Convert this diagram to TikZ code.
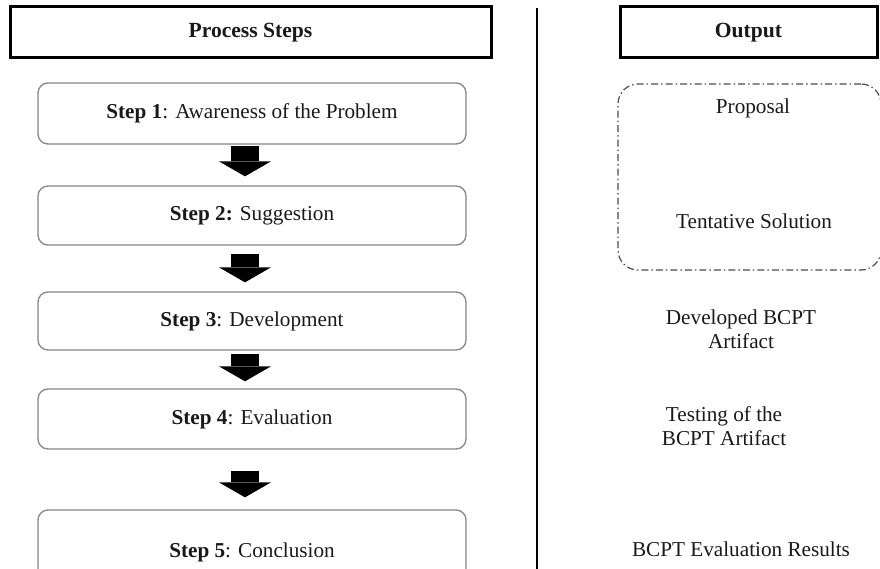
\documentclass[tikz,border=0pt]{standalone}
\usepackage{fontspec}
\setmainfont{Liberation Serif}
\usetikzlibrary{arrows.meta}
\begin{document}
\begin{tikzpicture}[x=1pt,y=-1pt,
  txt/.style={font=\fontsize{21.2}{24.5}\selectfont, text=black!90},
  header/.style={txt, draw=black, line width=3pt, minimum width=#1, minimum height=51pt,
    inner sep=0pt, font=\fontsize{21.6}{24.5}\selectfont\bfseries},
  stepbox/.style={txt, draw=black!48, line width=1.3pt, rounded corners=10pt,
    minimum width=428pt, inner sep=0pt},
  outtext/.style={txt, align=center, inner sep=0pt},
  group/.style={draw=black!70, line width=1.2pt, rounded corners=20pt,
    dash pattern=on 7pt off 3pt on 1.5pt off 3pt, inner sep=0pt},
  blockarrow/.style={line width=28pt, black,
    -{Triangle[width=52pt,length=15pt,line width=0pt]}}]

\useasboundingbox (0,0) rectangle (880,569);

% column headers
\node[header=481pt] (hp) at (250.5,32.5) {Process Steps};
\node[header=257pt] (ho) at (748.5,32.5) {Output};

% divider between the two columns
\coordinate (dtop) at (537,8);
\coordinate (dbot) at (537,569);
\draw[line width=2.5pt] (dtop) -- (dbot);

% process steps
\node[stepbox, minimum height=61pt] (s1) at (252,113.5) {\textbf{Step 1}: Awareness of the Problem};
\node[stepbox, minimum height=59pt] (s2) at (252,215.5) {\textbf{Step 2:} Suggestion};
\node[stepbox, minimum height=58pt] (s3) at (252,321)   {\textbf{Step 3}: Development};
\node[stepbox, minimum height=60pt] (s4) at (252,419)   {\textbf{Step 4}: Evaluation};
\node[stepbox, minimum height=84pt] (s5) at (252,552)   {\textbf{Step 5}: Conclusion};

% block arrows between steps
\draw[blockarrow] ([xshift=-7pt,yshift=-1pt]s1.south)  -- ([xshift=-7pt,yshift=9pt]s2.north);
\draw[blockarrow] ([xshift=-7pt,yshift=-8pt]s2.south)  -- ([xshift=-7pt,yshift=9pt]s3.north);
\draw[blockarrow] ([xshift=-7pt,yshift=-3pt]s3.south)  -- ([xshift=-7pt,yshift=7pt]s4.north);
\draw[blockarrow] ([xshift=-7pt,yshift=-21pt]s4.south) -- ([xshift=-7pt,yshift=12pt]s5.north);

% outputs
\node[group, minimum width=263pt, minimum height=186pt] (grp) at (749.5,177) {};
\node[outtext] (o1) at (753,108) {Proposal};
\node[outtext] (o2) at (754,221) {Tentative Solution};
\node[outtext] (o3) at (741,329) {Developed BCPT\\Artifact};
\node[outtext] (o4) at (724,426) {Testing of the\\BCPT Artifact};
\node[outtext] (o5) at (741,549) {BCPT Evaluation Results};
\end{tikzpicture}
\end{document}
